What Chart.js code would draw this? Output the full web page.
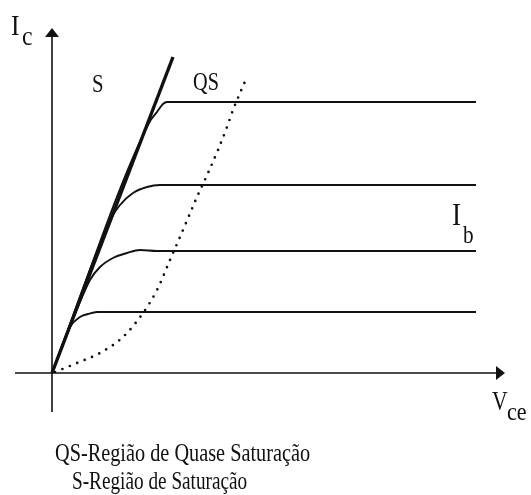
<!DOCTYPE html>
<html>
<head>
<meta charset="utf-8">
<title>Curvas Ic x Vce</title>
<script src="https://cdn.jsdelivr.net/npm/chart.js@4.4.1/dist/chart.umd.min.js"></script>
<style>
  body { margin: 0; background: #fff; }
  #wrap { width: 531px; height: 495px; }
</style>
</head>
<body>
<div id="wrap"><canvas id="myChart" width="531" height="495"></canvas></div>
<script>
// saturation line (S)
const satVce = [0, 12.1];
const satIc = [0, 31.6];

// Ic curves, one per base current
const vce1 = [0, 9.7, 10.5, 11.1, 11.5, 42.4];
const ic1 = [0, 25.0, 26.1, 26.9, 27.1, 27.1];
const vce2 = [0, 6.0, 6.8, 8.1, 9.5, 10.8, 42.4];
const ic2 = [0, 15.6, 16.8, 18.0, 18.6, 18.8, 18.8];
const vce3 = [0, 3.8, 4.8, 6.1, 7.5, 8.8, 10.5, 42.4];
const ic3 = [0, 9.3, 10.6, 11.5, 12.0, 12.3, 12.2, 12.2];
const vce4 = [0, 1.8, 2.8, 3.6, 4.5, 42.4];
const ic4 = [0, 4.6, 5.6, 5.9, 6.1, 6.1];

// quasi-saturation boundary (QS), dotted
const qsVce = [0.3, 0.8, 2.5, 4.8, 7.1, 9.1, 10.5, 11.8, 13.1, 14.5, 15.6, 16.6, 17.5, 18.1, 18.8, 19.5];
const qsIc = [0.1, 0.3, 1.0, 2.0, 3.6, 6.0, 8.3, 11.3, 14.3, 17.6, 20.0, 22.3, 24.6, 26.3, 28.0, 29.6];

// axes
const axisXVce = [-3.7, 44.5];
const axisYIc = [-3.9, 33.6];

const captionLines = ['QS-Região de Quase Saturação', 'S-Região de Saturação'];

const pts = (xs, ys) => xs.map((x, i) => ({x: x, y: ys[i]}));
const ink = '#111';
const serif = '"Liberation Serif", "DejaVu Serif", serif';

function curve(xs, ys, width, extra) {
    return Object.assign({
        data: pts(xs, ys),
        showLine: true,
        borderColor: ink,
        backgroundColor: ink,
        borderWidth: width,
        pointRadius: 0,
        fill: false,
    }, extra || {});
}

// text with a narrow serif look
function label(ctx, text, px, py, size, sx) {
    ctx.save();
    ctx.translate(px, py);
    ctx.scale(sx, 1);
    ctx.font = size + 'px ' + serif;
    ctx.fillStyle = ink;
    ctx.textBaseline = 'alphabetic';
    ctx.textAlign = 'left';
    ctx.fillText(text, 0, 0);
    ctx.restore();
}

const decorations = {
    id: 'decorations',
    afterDatasetsDraw(chart) {
        const ctx = chart.ctx;
        const xs = chart.scales.x, ys = chart.scales.y;
        const X = v => xs.getPixelForValue(v);
        const Y = v => ys.getPixelForValue(v);

        // arrow heads
        ctx.save();
        ctx.fillStyle = ink;
        ctx.beginPath();
        ctx.moveTo(X(45.3), Y(0));
        ctx.lineTo(X(45.3) - 9, Y(0) - 7);
        ctx.lineTo(X(45.3) - 9, Y(0) + 7);
        ctx.closePath();
        ctx.fill();
        ctx.beginPath();
        ctx.moveTo(X(0), Y(34.5));
        ctx.lineTo(X(0) - 7, Y(34.5) + 9);
        ctx.lineTo(X(0) + 7, Y(34.5) + 9);
        ctx.closePath();
        ctx.fill();
        ctx.restore();

        // axis and region labels
        label(ctx, 'I', X(-4.1), Y(33.8), 30, 0.85);
        label(ctx, 'c', X(-3.0), Y(32.8), 28, 0.85);
        label(ctx, 'S', X(4.0), Y(28.1), 26, 0.8);
        label(ctx, 'QS', X(14.1), Y(28.3), 26, 0.78);
        label(ctx, 'I', X(40.0), Y(14.8), 32, 0.85);
        label(ctx, 'b', X(41.1), Y(13.0), 25, 0.85);
        label(ctx, 'V', X(44.0), Y(-3.7), 27, 0.8);
        label(ctx, 'ce', X(45.5), Y(-4.7), 26, 0.85);

        // caption under the chart
        label(ctx, captionLines[0], 55, 461, 26, 0.78);
        label(ctx, captionLines[1], 72, 489, 26, 0.74);
    }
};

document.addEventListener("DOMContentLoaded", () => {
    var ctx = document.getElementById('myChart').getContext('2d');
    var chart = new Chart(ctx, {
        type: 'scatter',
        data: {
            datasets: [
                curve(axisXVce, [0, 0], 1.6),
                curve([0, 0], axisYIc, 1.6),
                curve(qsVce, qsIc, 2.7, {borderDash: [0, 8], borderCapStyle: 'round', cubicInterpolationMode: 'monotone'}),
                curve(vce1, ic1, 1.9, {cubicInterpolationMode: 'monotone'}),
                curve(vce2, ic2, 1.9, {cubicInterpolationMode: 'monotone'}),
                curve(vce3, ic3, 1.9, {cubicInterpolationMode: 'monotone'}),
                curve(vce4, ic4, 1.9, {cubicInterpolationMode: 'monotone'}),
                curve(satVce, satIc, 3.4),
            ]
        },
        options: {
            responsive: false,
            animation: false,
            devicePixelRatio: 1,
            layout: { padding: { left: 12, right: 19, top: 23, bottom: 82 } },
            plugins: {
                legend: { display: false },
                tooltip: { enabled: false }
            },
            scales: {
                x: { type: 'linear', min: -4, max: 46, display: false },
                y: { type: 'linear', min: -4, max: 35, display: false }
            }
        },
        plugins: [decorations]
    });
});
</script>
</body>
</html>
